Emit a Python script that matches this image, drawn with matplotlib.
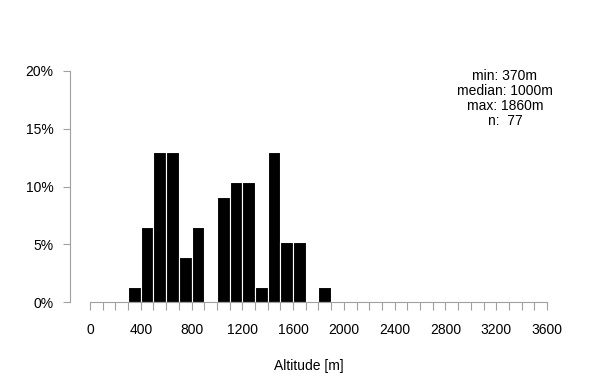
import matplotlib
matplotlib.use("Agg")
import matplotlib.pyplot as plt
import numpy as np

plt.rcParams['font.family'] = ['Liberation Sans', 'DejaVu Sans']

bin_edges = list(range(300, 1900, 100))
counts = [1, 5, 10, 10, 3, 5, 0, 7, 8, 8, 1, 10, 4, 4, 0, 1]
n_total = 77
x_ticks = [0, 400, 800, 1200, 1600, 2000, 2400, 2800, 3200, 3600]
y_ticks = [0, 5, 10, 15, 20]
stats_text = "min: 370m\nmedian: 1000m\nmax: 1860m\nn:  77"

W, H = 600, 390
fig = plt.figure(figsize=(W/100, H/100), dpi=100)
left, right, top, bottom = 70, 547, 71, 302
ax = fig.add_axes([left/W, 1 - bottom/H, (right-left)/W, (bottom-top)/H])

pct = [c / n_total * 100 for c in counts]
ax.bar(bin_edges, pct, width=100, align='edge', color='black',
       edgecolor='white', linewidth=0.8)

ax.set_xlim(-157.5, 3600)
ax.set_ylim(0, 20)
for s in ['top', 'right']:
    ax.spines[s].set_visible(False)
ax.spines['bottom'].set_bounds(0, 3600)
ax.spines['left'].set_bounds(0, 20)
for s in ['bottom', 'left']:
    ax.spines[s].set_color('#a0a0a0')
    ax.spines[s].set_linewidth(0.8)

ax.set_xticks(x_ticks)
ax.set_xticklabels([str(t) for t in x_ticks])
ax.set_xticks(np.arange(0, 3601, 100), minor=True)
ax.set_yticks(y_ticks)
ax.set_yticklabels([f"{t}%" for t in y_ticks])
ax.tick_params(axis='x', which='both', length=6, color='#a0a0a0', width=0.8,
               labelsize=10, pad=9)
ax.tick_params(axis='y', length=5, color='#a0a0a0', width=0.8,
               labelsize=10, pad=7)
ax.set_xlabel("Altitude [m]", fontsize=10, labelpad=16)

fig.text(505/W, 1 - 69/H, stats_text, ha='center', va='top', fontsize=10,
         linespacing=1.1)

fig.savefig("out.png", dpi=100)
